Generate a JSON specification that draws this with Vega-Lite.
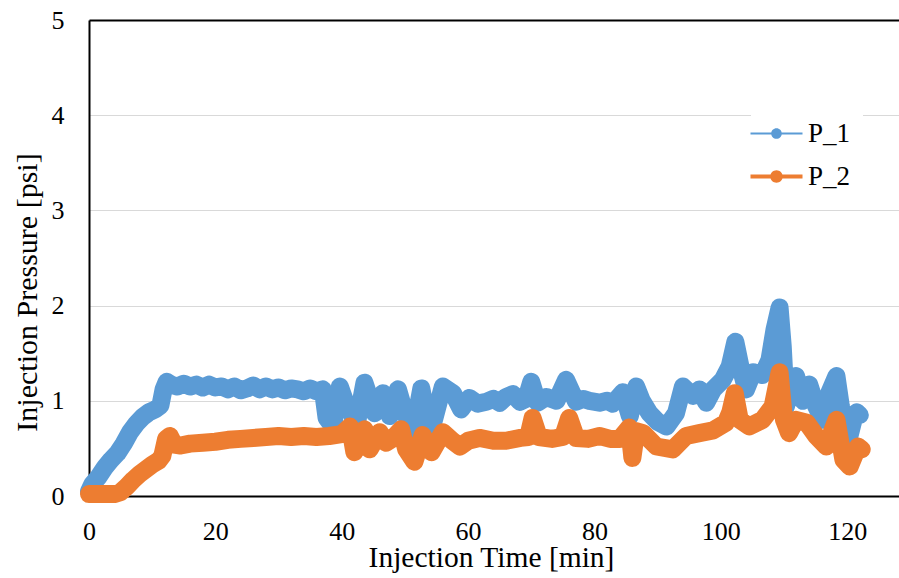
{
  "$schema": "https://vega.github.io/schema/vega-lite/v6.json",
  "autosize": {"type": "none"},
  "padding": {"left": 89, "top": 20, "right": 0, "bottom": 82},
  "width": 810,
  "height": 476,
  "background": "white",
  "config": {
    "font": "Liberation Serif",
    "view": {"stroke": null}
  },
  "data": {
    "values": [
      {"t": 0, "p": 0.05, "s": "P_1"}, {"t": 0.5, "p": 0.12, "s": "P_1"}, {"t": 1.5, "p": 0.2, "s": "P_1"}, {"t": 2.5, "p": 0.3, "s": "P_1"},
      {"t": 3.5, "p": 0.38, "s": "P_1"}, {"t": 4.5, "p": 0.45, "s": "P_1"}, {"t": 5.5, "p": 0.55, "s": "P_1"}, {"t": 6.5, "p": 0.67, "s": "P_1"},
      {"t": 7.5, "p": 0.76, "s": "P_1"}, {"t": 8.5, "p": 0.83, "s": "P_1"}, {"t": 9.5, "p": 0.88, "s": "P_1"}, {"t": 10.5, "p": 0.91, "s": "P_1"},
      {"t": 11.3, "p": 0.95, "s": "P_1"}, {"t": 11.8, "p": 1.12, "s": "P_1"}, {"t": 12.3, "p": 1.2, "s": "P_1"}, {"t": 13, "p": 1.17, "s": "P_1"},
      {"t": 14, "p": 1.15, "s": "P_1"}, {"t": 15, "p": 1.18, "s": "P_1"}, {"t": 16, "p": 1.15, "s": "P_1"}, {"t": 17, "p": 1.17, "s": "P_1"},
      {"t": 18, "p": 1.14, "s": "P_1"}, {"t": 19, "p": 1.17, "s": "P_1"}, {"t": 20, "p": 1.14, "s": "P_1"}, {"t": 21, "p": 1.15, "s": "P_1"},
      {"t": 22, "p": 1.12, "s": "P_1"}, {"t": 23, "p": 1.15, "s": "P_1"}, {"t": 24, "p": 1.11, "s": "P_1"}, {"t": 25, "p": 1.13, "s": "P_1"},
      {"t": 26, "p": 1.16, "s": "P_1"}, {"t": 27, "p": 1.12, "s": "P_1"}, {"t": 28, "p": 1.15, "s": "P_1"}, {"t": 29, "p": 1.12, "s": "P_1"},
      {"t": 30, "p": 1.14, "s": "P_1"}, {"t": 31, "p": 1.11, "s": "P_1"}, {"t": 32, "p": 1.13, "s": "P_1"}, {"t": 33, "p": 1.12, "s": "P_1"},
      {"t": 34, "p": 1.1, "s": "P_1"}, {"t": 35, "p": 1.13, "s": "P_1"}, {"t": 36, "p": 1.1, "s": "P_1"}, {"t": 37, "p": 1.12, "s": "P_1"},
      {"t": 37.6, "p": 0.82, "s": "P_1"}, {"t": 38.6, "p": 0.73, "s": "P_1"}, {"t": 39.7, "p": 1.15, "s": "P_1"}, {"t": 40.5, "p": 1.0, "s": "P_1"},
      {"t": 41.3, "p": 0.91, "s": "P_1"}, {"t": 42.3, "p": 0.73, "s": "P_1"}, {"t": 43.6, "p": 1.19, "s": "P_1"}, {"t": 45.2, "p": 0.87, "s": "P_1"},
      {"t": 46.5, "p": 1.08, "s": "P_1"}, {"t": 47.6, "p": 0.84, "s": "P_1"}, {"t": 48.9, "p": 1.12, "s": "P_1"}, {"t": 50, "p": 0.87, "s": "P_1"},
      {"t": 51.3, "p": 0.66, "s": "P_1"}, {"t": 52.6, "p": 1.13, "s": "P_1"}, {"t": 53.4, "p": 0.85, "s": "P_1"}, {"t": 54.2, "p": 0.7, "s": "P_1"},
      {"t": 56, "p": 1.15, "s": "P_1"}, {"t": 57.6, "p": 1.08, "s": "P_1"}, {"t": 58.9, "p": 0.91, "s": "P_1"}, {"t": 60.2, "p": 1.03, "s": "P_1"},
      {"t": 61.5, "p": 0.97, "s": "P_1"}, {"t": 62.9, "p": 0.99, "s": "P_1"}, {"t": 64, "p": 1.02, "s": "P_1"}, {"t": 65, "p": 0.98, "s": "P_1"},
      {"t": 66, "p": 1.04, "s": "P_1"}, {"t": 67.1, "p": 1.07, "s": "P_1"}, {"t": 68.2, "p": 0.99, "s": "P_1"}, {"t": 69.2, "p": 1.02, "s": "P_1"},
      {"t": 70, "p": 1.2, "s": "P_1"}, {"t": 71, "p": 0.98, "s": "P_1"}, {"t": 72.4, "p": 1.04, "s": "P_1"}, {"t": 74, "p": 1.0, "s": "P_1"},
      {"t": 75.5, "p": 1.22, "s": "P_1"}, {"t": 77.1, "p": 0.99, "s": "P_1"}, {"t": 78.2, "p": 1.02, "s": "P_1"}, {"t": 79.2, "p": 1.0, "s": "P_1"},
      {"t": 80.8, "p": 0.98, "s": "P_1"}, {"t": 82, "p": 1.0, "s": "P_1"}, {"t": 82.9, "p": 0.97, "s": "P_1"}, {"t": 84.5, "p": 1.09, "s": "P_1"},
      {"t": 85.6, "p": 0.84, "s": "P_1"}, {"t": 86.6, "p": 1.15, "s": "P_1"}, {"t": 87.5, "p": 1.0, "s": "P_1"}, {"t": 88.7, "p": 0.87, "s": "P_1"},
      {"t": 90, "p": 0.78, "s": "P_1"}, {"t": 91.4, "p": 0.73, "s": "P_1"}, {"t": 92.9, "p": 0.87, "s": "P_1"}, {"t": 94, "p": 1.15, "s": "P_1"},
      {"t": 95.6, "p": 1.05, "s": "P_1"}, {"t": 96.6, "p": 1.12, "s": "P_1"}, {"t": 97.7, "p": 0.98, "s": "P_1"}, {"t": 98.8, "p": 1.12, "s": "P_1"},
      {"t": 100.3, "p": 1.22, "s": "P_1"}, {"t": 101.4, "p": 1.36, "s": "P_1"}, {"t": 102.3, "p": 1.62, "s": "P_1"}, {"t": 103.2, "p": 1.33, "s": "P_1"},
      {"t": 104, "p": 1.12, "s": "P_1"}, {"t": 105.1, "p": 1.3, "s": "P_1"}, {"t": 106.6, "p": 1.27, "s": "P_1"}, {"t": 107.7, "p": 1.43, "s": "P_1"},
      {"t": 108.5, "p": 1.75, "s": "P_1"}, {"t": 109.3, "p": 1.98, "s": "P_1"}, {"t": 109.8, "p": 1.57, "s": "P_1"}, {"t": 110.3, "p": 0.94, "s": "P_1"},
      {"t": 111.1, "p": 1.12, "s": "P_1"}, {"t": 111.9, "p": 1.26, "s": "P_1"}, {"t": 113, "p": 1.0, "s": "P_1"}, {"t": 114, "p": 1.17, "s": "P_1"},
      {"t": 115.1, "p": 0.94, "s": "P_1"}, {"t": 116.1, "p": 0.8, "s": "P_1"}, {"t": 117.2, "p": 1.09, "s": "P_1"}, {"t": 118.3, "p": 1.26, "s": "P_1"},
      {"t": 119, "p": 0.94, "s": "P_1"}, {"t": 120.1, "p": 0.56, "s": "P_1"}, {"t": 121, "p": 0.8, "s": "P_1"}, {"t": 121.5, "p": 0.88, "s": "P_1"},
      {"t": 122, "p": 0.85, "s": "P_1"},
      {"t": 0, "p": 0.02, "s": "P_2"}, {"t": 1, "p": 0.02, "s": "P_2"}, {"t": 2, "p": 0.02, "s": "P_2"}, {"t": 3, "p": 0.02, "s": "P_2"},
      {"t": 4, "p": 0.02, "s": "P_2"}, {"t": 5, "p": 0.04, "s": "P_2"}, {"t": 6, "p": 0.1, "s": "P_2"}, {"t": 7, "p": 0.17, "s": "P_2"},
      {"t": 8, "p": 0.23, "s": "P_2"}, {"t": 9, "p": 0.28, "s": "P_2"}, {"t": 10, "p": 0.33, "s": "P_2"}, {"t": 11, "p": 0.37, "s": "P_2"},
      {"t": 11.6, "p": 0.42, "s": "P_2"}, {"t": 12.2, "p": 0.6, "s": "P_2"}, {"t": 12.8, "p": 0.63, "s": "P_2"}, {"t": 13.5, "p": 0.54, "s": "P_2"},
      {"t": 14.5, "p": 0.53, "s": "P_2"}, {"t": 16, "p": 0.55, "s": "P_2"}, {"t": 18, "p": 0.56, "s": "P_2"}, {"t": 20, "p": 0.57, "s": "P_2"},
      {"t": 22, "p": 0.59, "s": "P_2"}, {"t": 24, "p": 0.6, "s": "P_2"}, {"t": 26, "p": 0.61, "s": "P_2"}, {"t": 28, "p": 0.62, "s": "P_2"},
      {"t": 30, "p": 0.63, "s": "P_2"}, {"t": 32, "p": 0.62, "s": "P_2"}, {"t": 34, "p": 0.63, "s": "P_2"}, {"t": 36, "p": 0.62, "s": "P_2"},
      {"t": 38, "p": 0.63, "s": "P_2"}, {"t": 40, "p": 0.65, "s": "P_2"}, {"t": 41.3, "p": 0.73, "s": "P_2"}, {"t": 42, "p": 0.46, "s": "P_2"},
      {"t": 43.6, "p": 0.7, "s": "P_2"}, {"t": 44.4, "p": 0.49, "s": "P_2"}, {"t": 46, "p": 0.67, "s": "P_2"}, {"t": 47, "p": 0.56, "s": "P_2"},
      {"t": 48, "p": 0.6, "s": "P_2"}, {"t": 49.4, "p": 0.7, "s": "P_2"}, {"t": 50.2, "p": 0.49, "s": "P_2"}, {"t": 51.5, "p": 0.36, "s": "P_2"},
      {"t": 52.8, "p": 0.64, "s": "P_2"}, {"t": 54.2, "p": 0.46, "s": "P_2"}, {"t": 56, "p": 0.67, "s": "P_2"}, {"t": 57.5, "p": 0.58, "s": "P_2"},
      {"t": 58.7, "p": 0.52, "s": "P_2"}, {"t": 60, "p": 0.58, "s": "P_2"}, {"t": 61.8, "p": 0.61, "s": "P_2"}, {"t": 64, "p": 0.58, "s": "P_2"},
      {"t": 66, "p": 0.58, "s": "P_2"}, {"t": 68.3, "p": 0.61, "s": "P_2"}, {"t": 69.5, "p": 0.62, "s": "P_2"}, {"t": 70.2, "p": 0.82, "s": "P_2"},
      {"t": 71.2, "p": 0.62, "s": "P_2"}, {"t": 73.3, "p": 0.6, "s": "P_2"}, {"t": 75, "p": 0.62, "s": "P_2"}, {"t": 76, "p": 0.82, "s": "P_2"},
      {"t": 77.1, "p": 0.61, "s": "P_2"}, {"t": 79, "p": 0.6, "s": "P_2"}, {"t": 80.8, "p": 0.63, "s": "P_2"}, {"t": 82.5, "p": 0.6, "s": "P_2"},
      {"t": 84, "p": 0.6, "s": "P_2"}, {"t": 85.5, "p": 0.72, "s": "P_2"}, {"t": 86, "p": 0.4, "s": "P_2"}, {"t": 86.6, "p": 0.68, "s": "P_2"},
      {"t": 87.7, "p": 0.66, "s": "P_2"}, {"t": 89.8, "p": 0.52, "s": "P_2"}, {"t": 92.4, "p": 0.49, "s": "P_2"}, {"t": 94.5, "p": 0.63, "s": "P_2"},
      {"t": 96.6, "p": 0.66, "s": "P_2"}, {"t": 98.8, "p": 0.69, "s": "P_2"}, {"t": 100.8, "p": 0.77, "s": "P_2"}, {"t": 101.5, "p": 0.88, "s": "P_2"},
      {"t": 102.2, "p": 1.08, "s": "P_2"}, {"t": 103, "p": 0.8, "s": "P_2"}, {"t": 104.5, "p": 0.73, "s": "P_2"}, {"t": 106.6, "p": 0.8, "s": "P_2"},
      {"t": 108.2, "p": 0.94, "s": "P_2"}, {"t": 109.3, "p": 1.3, "s": "P_2"}, {"t": 110, "p": 0.8, "s": "P_2"}, {"t": 110.8, "p": 0.66, "s": "P_2"},
      {"t": 111.9, "p": 0.8, "s": "P_2"}, {"t": 113.6, "p": 0.77, "s": "P_2"}, {"t": 115.1, "p": 0.63, "s": "P_2"}, {"t": 116.7, "p": 0.52, "s": "P_2"},
      {"t": 118.3, "p": 0.8, "s": "P_2"}, {"t": 119.4, "p": 0.38, "s": "P_2"}, {"t": 120.4, "p": 0.31, "s": "P_2"}, {"t": 121.7, "p": 0.52, "s": "P_2"},
      {"t": 122.3, "p": 0.49, "s": "P_2"}
    ]
  },
  "mark": {"type": "line", "strokeWidth": 18, "strokeCap": "round", "strokeJoin": "round"},
  "encoding": {
    "x": {
      "field": "t", "type": "quantitative",
      "scale": {"domain": [0, 128.2], "nice": false, "zero": false},
      "axis": {
        "title": "Injection Time [min]",
        "titleFont": "Liberation Serif", "titleFontSize": 29.5, "titleFontWeight": "normal", "titleColor": "black",
        "titleBaseline": "alphabetic", "titleX": 402, "titleY": 70,
        "values": [0, 20, 40, 60, 80, 100, 120],
        "labelFont": "Liberation Serif", "labelFontSize": 26, "labelColor": "black",
        "labelPadding": 22, "labelFlush": false, "labelOverlap": false,
        "ticks": false, "tickSize": 0,
        "grid": false,
        "domainColor": "black", "domainWidth": 2
      }
    },
    "y": {
      "field": "p", "type": "quantitative",
      "scale": {"domain": [0, 5], "nice": false},
      "axis": {
        "title": "Injection Pressure [psi]",
        "titleFont": "Liberation Serif", "titleFontSize": 30, "titleFontWeight": "normal", "titleColor": "black",
        "titleAngle": 270, "titleBaseline": "alphabetic", "titleAlign": "center",
        "titleX": -53, "titleY": 272,
        "values": [0, 1, 2, 3, 4, 5],
        "labelFont": "Liberation Serif", "labelFontSize": 26, "labelColor": "black",
        "labelPadding": 25, "labelFlush": false, "labelOverlap": false,
        "ticks": false, "tickSize": 0,
        "grid": true,
        "gridColor": {"condition": {"test": "datum.value === 5", "value": "black"}, "value": "#D9D9D9"},
        "gridWidth": {"condition": {"test": "datum.value === 5", "value": 2}, "value": 1.2},
        "domainColor": "black", "domainWidth": 2
      }
    },
    "color": {
      "field": "s", "type": "nominal",
      "scale": {"domain": ["P_1", "P_2"], "range": ["#5B9BD5", "#ED7D31"]},
      "legend": {
        "orient": "none", "legendX": 662, "legendY": 88,
        "title": null, "padding": 12, "fillColor": "white", "strokeColor": null,
        "labelFont": "Liberation Serif", "labelFontSize": 27, "labelColor": "black",
        "symbolSize": 676, "labelOffset": 18, "rowPadding": 15,
        "encode": {
          "symbols": {
            "update": {
              "shape": {"signal": "datum.value === 'P_1' ? 'M-2,-0.08L2,-0.08L2,0.08L-2,0.08Z M0.41,0A0.41,0.41 0 1,1 -0.41,0A0.41,0.41 0 1,1 0.41,0Z' : 'M-2,-0.15L2,-0.15L2,0.15L-2,0.15Z M0.48,0A0.48,0.48 0 1,1 -0.48,0A0.48,0.48 0 1,1 0.48,0Z'"},
              "fill": {"signal": "datum.value === 'P_1' ? '#5B9BD5' : '#ED7D31'"},
              "stroke": {"value": "transparent"},
              "strokeWidth": {"value": 0},
              "opacity": {"value": 1}
            }
          }
        }
      }
    }
  }
}
